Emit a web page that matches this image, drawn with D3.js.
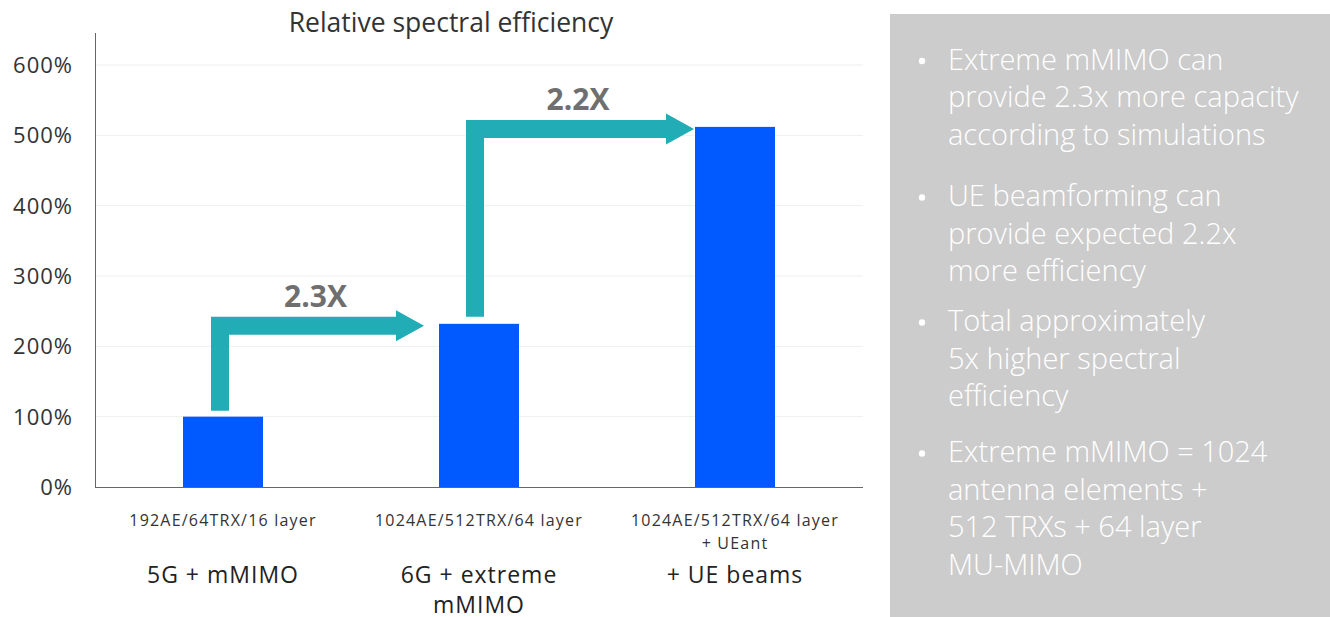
<!DOCTYPE html>
<html>
<head>
<meta charset="utf-8">
<script src="https://cdn.jsdelivr.net/npm/d3@7"></script>
<style>
  html, body { margin: 0; padding: 0; background: #fff; }
  svg { display: block; font-family: "Open Sans", "Noto Sans", sans-serif; }
</style>
</head>
<body>
<svg id="chart" width="1330" height="617"></svg>
<script>
// Relative spectral efficiency per configuration (percent of 5G mMIMO baseline)
const categories = ["5G + mMIMO", "6G + extreme mMIMO", "+ UE beams"];
const subLabels = [["192AE/64TRX/16 layer"], ["1024AE/512TRX/64 layer"], ["1024AE/512TRX/64 layer", "+ UEant"]];
const nameLines = [["5G + mMIMO"], ["6G + extreme", "mMIMO"], ["+ UE beams"]];
const values = [100, 232, 512];
const gainLabels = ["2.3X", "2.2X"];
const yTicks = [0, 100, 200, 300, 400, 500, 600];
const bullets = [
  ["Extreme mMIMO can", "provide 2.3x more capacity", "according to simulations"],
  ["UE beamforming can", "provide expected 2.2x", "more efficiency"],
  ["Total approximately", "5x higher spectral", "efficiency"],
  ["Extreme mMIMO = 1024", "antenna elements +", "512 TRXs + 64 layer", "MU-MIMO"]
];

const svg = d3.select("#chart");
const plotLeft = 95, plotRight = 863, plotTop = 65, plotBottom = 487;

const x = d3.scaleBand().domain(categories).range([plotLeft, plotRight])
  .paddingInner(0.6875).paddingOuter(0.34375);
const y = d3.scaleLinear().domain([0, 600]).range([plotBottom, plotTop]);

// title
svg.append("text").attr("x", 451).attr("y", 32).attr("text-anchor", "middle")
  .attr("font-size", 26.5).attr("fill", "#333").text("Relative spectral efficiency");

// gridlines
svg.append("g").selectAll("line").data(yTicks.filter(d => d > 0)).join("line")
  .attr("x1", plotLeft).attr("x2", plotRight).attr("y1", d => y(d)).attr("y2", d => y(d))
  .attr("stroke", "#efefef").attr("stroke-width", 1);

// y axis
const yAxis = svg.append("g").attr("transform", `translate(${plotLeft},0)`)
  .call(d3.axisLeft(y).tickValues(yTicks).tickFormat(d => d + "%").tickSize(0).tickPadding(22));
yAxis.select(".domain").remove();
yAxis.selectAll("text").attr("font-size", 22).attr("fill", "#333").attr("dy", "0.34em")
  .attr("letter-spacing", 1).attr("font-family", "'Open Sans', sans-serif");
svg.append("line").attr("x1", plotLeft + 0.5).attr("x2", plotLeft + 0.5).attr("y1", 33).attr("y2", plotBottom)
  .attr("stroke", "#666").attr("stroke-width", 1);
svg.append("line").attr("x1", plotLeft).attr("x2", plotRight).attr("y1", plotBottom + 0.5).attr("y2", plotBottom + 0.5)
  .attr("stroke", "#666").attr("stroke-width", 1);

// bars
svg.append("g").selectAll("rect").data(values).join("rect")
  .attr("x", (d, i) => x(categories[i])).attr("width", x.bandwidth())
  .attr("y", d => y(d)).attr("height", d => plotBottom - y(d))
  .attr("fill", "#005aff");

// step arrows between consecutive bars
const arrowColor = "#22acb5";
const stem = 18, shaft = 18, headW = 31, headL = 28;
const arrowSpecs = [
  { from: 0, to: 1, stemOff: 28, baseGap: 6, tipGap: 15 },
  { from: 1, to: 2, stemOff: 27, baseGap: 7, tipGap: 1 }
];
arrowSpecs.forEach((a, k) => {
  const sx = x(categories[a.from]) + a.stemOff;
  const sy = y(values[a.from]) - a.baseGap;
  const cy = y(values[a.to]) + 2;
  const tip = x(categories[a.to]) - a.tipGap;
  const hb = tip - headL;
  const p = d3.path();
  p.moveTo(sx, sy);
  p.lineTo(sx, cy - shaft / 2);
  p.lineTo(hb, cy - shaft / 2);
  p.lineTo(hb, cy - headW / 2);
  p.lineTo(tip, cy);
  p.lineTo(hb, cy + headW / 2);
  p.lineTo(hb, cy + shaft / 2);
  p.lineTo(sx + stem, cy + shaft / 2);
  p.lineTo(sx + stem, sy);
  p.closePath();
  svg.append("path").attr("d", p.toString()).attr("fill", arrowColor);
  svg.append("text").attr("x", (sx + tip) / 2 - 2).attr("y", cy - shaft / 2 - 10)
    .attr("text-anchor", "middle").attr("font-size", 30).attr("font-weight", 700)
    .attr("fill", "#6f6f6f").text(gainLabels[k]);
});

// category labels
const cat = svg.append("g");
categories.forEach((c, i) => {
  const cx = x(c) + x.bandwidth() / 2;
  subLabels[i].forEach((t, j) => {
    cat.append("text").attr("x", cx).attr("y", 526 + j * 23).attr("text-anchor", "middle")
      .attr("font-size", 16).attr("letter-spacing", 1.2).attr("fill", "#333").text(t);
  });
  nameLines[i].forEach((t, j) => {
    cat.append("text").attr("x", cx).attr("y", 583 + j * 30).attr("text-anchor", "middle")
      .attr("font-size", 23).attr("letter-spacing", 1).attr("fill", "#222").text(t);
  });
});

// side panel
svg.append("rect").attr("x", 890).attr("y", 14).attr("width", 440).attr("height", 603)
  .attr("fill", "#cccccc");
const bulletBaselines = [69.5, 206, 331, 462];
const lineH = 37.7;
const panel = svg.append("g").attr("fill", "#fff").attr("font-weight", 300).attr("font-size", 29);
bullets.forEach((b, i) => {
  panel.append("circle").attr("cx", 922).attr("cy", bulletBaselines[i] - 8.5).attr("r", 3.2).attr("fill", "#fff");
  b.forEach((t, j) => {
    panel.append("text").attr("x", 948).attr("y", bulletBaselines[i] + j * lineH).text(t);
  });
});
</script>
</body>
</html>
